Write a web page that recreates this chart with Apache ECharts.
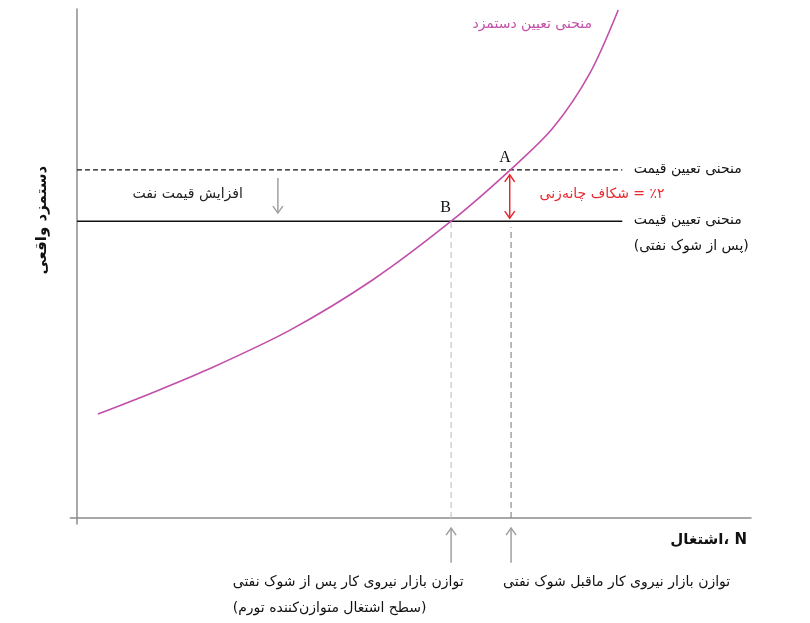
<!DOCTYPE html>
<html lang="fa">
<head>
	<meta charset="UTF-8">
	<title>منحنی تعیین دستمزد</title>
	<style type="text/css">
		html, body { margin: 0; padding: 0; background: #fff; }
		.box { width: 810px; height: 623px; }
	</style>
</head>
<body>
	<div class="box" id="main"></div>
	<script type="text/javascript" src="https://cdn.jsdelivr.net/npm/echarts@6/dist/echarts.min.js"></script>
	<script type="text/javascript">
		// منحنی تعیین دستمزد (اشتغال، دستمزد واقعی)
		var wageN = [3.1, 11.0, 19.3, 31.6, 43.9, 55.5, 64.3, 70.6, 76.1, 80.3];
		var wageW = [20.4, 24.5, 29.1, 36.9, 46.8, 58.3, 68.4, 76.6, 87.4, 99.8];
		// منحنی تعیین قیمت، قبل و بعد از شوک
		var priceBefore = 68.4;
		var priceAfter = 58.3;
		var priceEnd = 80.9;
		// اشتغال متوازن قبل و بعد
		var eqBefore = 64.4;
		var eqAfter = 55.5;

		var fontFa = '"DejaVu Sans", sans-serif';

		var myChart = echarts.init(document.getElementById('main'));

		// arrows: [x, yFrom, yTo, color, double-headed]
		var arrows = [
			[29.8, 66.8, 59.9, '#a0a0a0', 0],
			[64.2, 58.9, 67.4, '#e8282e', 1],
			[eqAfter, -8.8, -2.0, '#a0a0a0', 0],
			[eqBefore, -8.8, -2.0, '#a0a0a0', 0]
		];

		// labels: [x, y, text, color, size, weight, align, family, rotate]
		var labels = [
			[76.4, 96.9, 'منحنی تعیین دستمزد', '#c24fa9', 14, 'normal', 'right', fontFa, 0],
			[63.5, 70.7, 'A', '#111', 16, 'normal', 'center', '"Liberation Serif", serif', 0],
			[54.7, 60.9, 'B', '#111', 16, 'normal', 'center', '"Liberation Serif", serif', 0],
			[82.6, 68.4, 'منحنی تعیین قیمت', '#111', 14, 'normal', 'left', fontFa, 0],
			[82.6, 58.5, 'منحنی تعیین قیمت', '#111', 14, 'normal', 'left', fontFa, 0],
			[82.6, 53.4, '(پس از شوک نفتی)', '#111', 14, 'normal', 'left', fontFa, 0],
			[24.6, 63.5, 'افزایش قیمت نفت', '#222', 14, 'normal', 'right', fontFa, 0],
			[77.9, 63.6, 'شکاف چانه‌زنی\u200E = ٪۲', '#e8282e', 14, 'normal', 'center', fontFa, 0],
			[-5.2, 58.5, 'دستمزد واقعی', '#111', 15, 'bold', 'center', fontFa, 90],
			[99.4, -4.3, 'اشتغال، N', '#111', 15, 'bold', 'right', fontFa, 0],
			[23.1, -12.6, 'توازن بازار نیروی کار پس از شوک نفتی', '#111', 14, 'normal', 'left', fontFa, 0],
			[23.1, -17.7, '(سطح اشتغال متوازن‌کننده تورم)', '#111', 14, 'normal', 'left', fontFa, 0],
			[63.2, -12.6, 'توازن بازار نیروی کار ماقبل شوک نفتی', '#111', 14, 'normal', 'left', fontFa, 0]
		];

		function drawArrow(params, api){
			var p1 = api.coord([api.value(0), api.value(1)]);
			var p2 = api.coord([api.value(0), api.value(2)]);
			var color = arrows[params.dataIndex][3];
			var dbl = arrows[params.dataIndex][4];
			var dir = p2[1] > p1[1] ? 1 : -1;
			var hw = 5, hh = 7;
			var children = [{
				type: 'line',
				shape: { x1: p1[0], y1: p1[1], x2: p2[0], y2: p2[1] },
				style: { stroke: color, lineWidth: 1.5 }
			}, {
				type: 'polyline',
				shape: { points: [[p2[0] - hw, p2[1] - dir * hh], [p2[0], p2[1]], [p2[0] + hw, p2[1] - dir * hh]] },
				style: { stroke: color, lineWidth: 1.5, fill: null }
			}];
			if (dbl) {
				children.push({
					type: 'polyline',
					shape: { points: [[p1[0] - hw, p1[1] + dir * hh], [p1[0], p1[1]], [p1[0] + hw, p1[1] + dir * hh]] },
					style: { stroke: color, lineWidth: 1.5, fill: null }
				});
			}
			return { type: 'group', children: children };
		}

		function drawLabel(params, api){
			var d = labels[params.dataIndex];
			var p = api.coord([d[0], d[1]]);
			return {
				type: 'text',
				x: p[0],
				y: p[1],
				rotation: d[8] * Math.PI / 180,
				style: {
					text: d[2],
					fill: d[3],
					fontSize: d[4],
					fontWeight: d[5],
					fontFamily: d[7],
					align: d[6],
					verticalAlign: 'middle'
				}
			};
		}

		var curveData = [];
		wageN.forEach(function (n, i){
			curveData.push([n, wageW[i]]);
		});

		var option = {
			animation: false,
			grid: { left: 70.3, right: 59, top: 9, bottom: 99 },
			xAxis: {
				type: 'value', min: -1, max: 100,
				axisLine: { onZero: true, lineStyle: { color: '#8c8c8c', width: 1.5 } },
				axisTick: { show: false }, axisLabel: { show: false }, splitLine: { show: false }
			},
			yAxis: {
				type: 'value', min: -1.2, max: 100,
				axisLine: { show: true, onZero: true, lineStyle: { color: '#8c8c8c', width: 1.5 } },
				axisTick: { show: false }, axisLabel: { show: false }, splitLine: { show: false }
			},
			series: [
				{
					type: 'line', data: [[eqAfter, 0], [eqAfter, priceAfter]],
					symbol: 'none', lineStyle: { color: '#c4c4c4', width: 1.2, type: [6, 4] }
				},
				{
					type: 'line', data: [[eqBefore, 0], [eqBefore, priceAfter - 1.2]],
					symbol: 'none', lineStyle: { color: '#8a8a8a', width: 1.2, type: [6, 4] }
				},
				{
					type: 'line', data: [[0, priceBefore], [priceEnd, priceBefore]],
					symbol: 'none', lineStyle: { color: '#111', width: 1.2, type: [5, 3] }
				},
				{
					type: 'line', data: [[0, priceAfter], [priceEnd, priceAfter]],
					symbol: 'none', lineStyle: { color: '#111', width: 1.5 }
				},
				{
					type: 'line', data: curveData, smooth: 0.3,
					symbol: 'none', lineStyle: { color: '#c24fa9', width: 1.6 }
				},
				{
					type: 'custom', renderItem: drawArrow, clip: false,
					data: arrows.map(function (a){ return [a[0], a[1], a[2]]; })
				},
				{
					type: 'custom', renderItem: drawLabel, clip: false,
					data: labels.map(function (l){ return [l[0], l[1]]; })
				}
			]
		};
		myChart.setOption(option);
	</script>
</body>
</html>
